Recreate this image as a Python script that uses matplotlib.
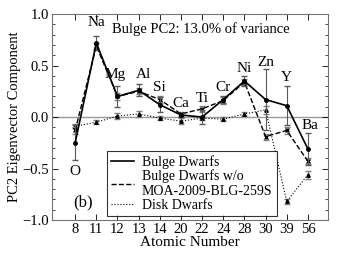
import numpy as np
import matplotlib
matplotlib.use('Agg')
import matplotlib.pyplot as plt
from matplotlib.lines import Line2D

plt.rcParams['font.family'] = ['Liberation Serif', 'DejaVu Serif']

# atomic numbers and element names
atomic_numbers = ['8', '11', '12', '13', '14', '20', '22', '24', '28', '30', '39', '56']
elements = ['O', 'Na', 'Mg', 'Al', 'Si', 'Ca', 'Ti', 'Cr', 'Ni', 'Zn', 'Y', 'Ba']

# PC2 components
bulge = [-0.25, 0.72, 0.20, 0.26, 0.12, 0.02, 0.00, 0.17, 0.35, 0.17, 0.11, -0.31]
bulge_err = [0.17, 0.07, 0.10, 0.06, 0.07, 0.02, 0.07, 0.03, 0.05, 0.30, 0.19, 0.16]
bulge_wo = [-0.13, 0.69, 0.20, 0.25, 0.17, 0.03, 0.08, 0.16, 0.34, -0.19, -0.13, -0.43]
bulge_wo_err = [0.03, 0.03, 0.03, 0.03, 0.03, 0.02, 0.03, 0.03, 0.03, 0.03, 0.03, 0.03]
disk = [-0.09, -0.05, 0.01, 0.03, -0.01, -0.04, -0.01, -0.02, 0.03, 0.07, -0.82, -0.56]
disk_err = [0.02, 0.02, 0.03, 0.03, 0.02, 0.03, 0.02, 0.02, 0.02, 0.04, 0.02, 0.04]

legend_labels = ['Bulge Dwarfs', 'Bulge Dwarfs w/o\nMOA-2009-BLG-259S', 'Disk Dwarfs']

# label positions (y) for element names
label_y = [-0.53, 0.92, 0.41, 0.41, 0.29, 0.13, 0.18, 0.29, 0.47, 0.53, 0.38, -0.08]
label_dx = [0, 0, -0.12, 0.22, 0, 0, 0, 0, 0, 0, 0, 0.12]

x = np.arange(len(atomic_numbers))

fig = plt.figure(figsize=(3.46, 2.61), dpi=100)
ax = fig.add_axes([0.150, 0.157, 0.798, 0.789])

ax.axhline(0, color='0.6', lw=1.0, zorder=1)

ax.errorbar(x, bulge, yerr=bulge_err, fmt='-o', color='black', ms=2.5, lw=1.2,
            ecolor='0.35', elinewidth=0.8, capsize=2, zorder=4)
ax.errorbar(x, bulge_wo, yerr=bulge_wo_err, fmt='--x', color='black', ms=3, lw=1.0,
            ecolor='0.5', elinewidth=0.8, capsize=2, zorder=3)
ax.errorbar(x, disk, yerr=disk_err, fmt=':^', color='black', ms=2.5, lw=0.8,
            ecolor='0.5', elinewidth=0.8, capsize=2, zorder=2)

for xi, name, ly, dx in zip(x, elements, label_y, label_dx):
    ax.text(xi + dx, ly, name, ha='center', va='center', fontsize=11)

ax.text(5.94, 0.85, 'Bulge PC2: 13.0% of variance', ha='center', va='center', fontsize=10.5)
ax.text(0.35, -0.83, '(b)', ha='center', va='center', fontsize=12)

ax.set_xlim(-1.1, 11.95)
ax.set_ylim(-1.0, 1.0)
ax.set_xticks(x)
ax.set_xticklabels(atomic_numbers)
ax.set_yticks([-1.0, -0.5, 0.0, 0.5, 1.0])
ax.set_yticklabels(['\u22121.0', '\u22120.5', '0.0', '0.5', '1.0'])
ax.set_yticks(np.arange(-1.0, 1.01, 0.1), minor=True)
ax.tick_params(direction='in', top=True, right=True, labelsize=10.5, length=4, width=0.6, pad=2)
ax.tick_params(which='minor', direction='in', right=True, length=2, width=0.5)
for s in ax.spines.values():
    s.set_color('0.45')
    s.set_linewidth(0.8)

ax.set_xlabel('Atomic Number', fontsize=11, labelpad=0)
ax.set_ylabel('PC2 Eigenvector Component', fontsize=10.5, labelpad=1)

handles = [Line2D([], [], color='black', ls='-', lw=1.2),
           Line2D([], [], color='black', ls='--', lw=1.0),
           Line2D([], [], color='black', ls=':', lw=0.8)]
leg = ax.legend(handles, legend_labels, loc='lower left', bbox_to_anchor=(0.2, 0.02),
                fontsize=10, frameon=True, fancybox=False, edgecolor='black',
                handlelength=1.6, borderpad=0.3, labelspacing=0.05,
                handletextpad=0.6, borderaxespad=0)
leg.get_frame().set_linewidth(0.8)

fig.savefig('out.png', dpi=100)
